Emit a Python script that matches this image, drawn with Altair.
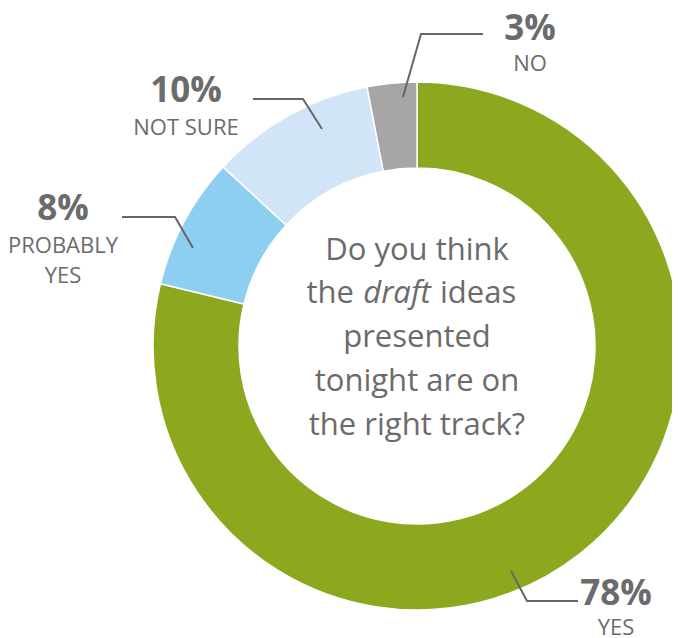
import altair as alt
import pandas as pd

# ---- data ----
categories = ["YES", "PROBABLY YES", "NOT SURE", "NO"]
display_names = ["YES", "PROBABLY\nYES", "NOT SURE", "NO"]
values = [78, 8, 10, 3]
colors = ["#8BA81E", "#8ECEF0", "#D2E5F8", "#A6A6A6"]

question_lines = ["Do you think", "the draft ideas", "presented", "tonight are on", "the right track?"]

# ---- layout (page pixel coords, offset by the 8px page margin) ----
M = 8
W, H = 664, 630
CX, CY = 417 - M, 346 - M
R_OUT, R_IN = 264, 178

df = pd.DataFrame({"cat": categories, "value": values, "order": list(range(len(categories)))})

donut = alt.Chart(df).mark_arc(radius=R_OUT, radius2=R_IN, stroke="white", strokeWidth=1.5).encode(
    theta=alt.Theta("value:Q", stack=True),
    order=alt.Order("order:Q"),
    color=alt.Color("cat:N", scale=alt.Scale(domain=categories, range=colors), legend=None),
    x=alt.value(CX),
    y=alt.value(CY),
)

# leader lines (page coords)
leaders = {
    "NO": [(403, 97), (421, 34), (483, 34)],
    "NOT SURE": [(322, 129), (303, 99), (253, 99)],
    "PROBABLY YES": [(193, 248), (175, 217), (122, 217)],
    "YES": [(511, 571), (527, 601), (578, 601)],
}
rows = []
for k, pts in leaders.items():
    for i, (px, py) in enumerate(pts):
        rows.append({"g": k, "i": i, "px": px - M, "py": py - M})
ldf = pd.DataFrame(rows)
lines = alt.Chart(ldf).mark_line(color="#666666", strokeWidth=2).encode(
    x=alt.X("px:Q", scale=None, axis=None),
    y=alt.Y("py:Q", scale=None, axis=None),
    detail="g:N",
    order="i:Q",
)

# label anchor positions (page coords): center x, pct baseline, name first baseline
label_pos = {
    "NO": (530, 40, 71),
    "NOT SURE": (186, 102, 135),
    "PROBABLY YES": (63, 220, 253),
    "YES": (616, 605, 635),
}
pct_rows, name_rows = [], []
for cat, val, dn in zip(categories, values, display_names):
    lx, pb, nb = label_pos[cat]
    pct_rows.append({"px": lx - M, "py": pb - M, "t": f"{val}%"})
    for j, part in enumerate(dn.split("\n")):
        name_rows.append({"px": lx - M, "py": nb - M + j * 30, "t": part})

pct_text = alt.Chart(pd.DataFrame(pct_rows)).mark_text(
    font="Open Sans", fontSize=35, fontWeight="bold", color="#6B6B6B", align="center", baseline="alphabetic"
).encode(x=alt.X("px:Q", scale=None), y=alt.Y("py:Q", scale=None), text="t:N")

name_text = alt.Chart(pd.DataFrame(name_rows)).mark_text(
    font="Open Sans", fontSize=22, color="#6B6B6B", align="center", baseline="alphabetic"
).encode(x=alt.X("px:Q", scale=None), y=alt.Y("py:Q", scale=None), text="t:N")

# center question text
baselines = [260, 303, 347, 391, 435]
q_rows = []
for line, b in zip(question_lines, baselines):
    if "draft" in line:
        q_rows.append({"px": 354 - M, "py": b - M, "t": "the", "st": "normal", "al": "right"})
        q_rows.append({"px": 397 - M, "py": b - M, "t": "draft", "st": "italic", "al": "center"})
        q_rows.append({"px": 440 - M, "py": b - M, "t": "ideas", "st": "normal", "al": "left"})
    else:
        q_rows.append({"px": 417 - M, "py": b - M, "t": line, "st": "normal", "al": "center"})
qdf = pd.DataFrame(q_rows)

q_layers = []
for st in ["normal", "italic"]:
    for al in ["left", "center", "right"]:
        sub = qdf[(qdf.st == st) & (qdf.al == al)]
        if len(sub) == 0:
            continue
        q_layers.append(
            alt.Chart(sub).mark_text(
                font="Open Sans", fontSize=31, fontStyle=st, color="#6B6B6B", align=al, baseline="alphabetic"
            ).encode(x=alt.X("px:Q", scale=None), y=alt.Y("py:Q", scale=None), text="t:N")
        )

chart = alt.layer(donut, lines, pct_text, name_text, *q_layers).properties(
    width=W, height=H, autosize=alt.AutoSizeParams(type="none"), padding=0
).configure_view(stroke=None)

chart.save("out.html", embed_options={"renderer": "svg", "actions": False})
